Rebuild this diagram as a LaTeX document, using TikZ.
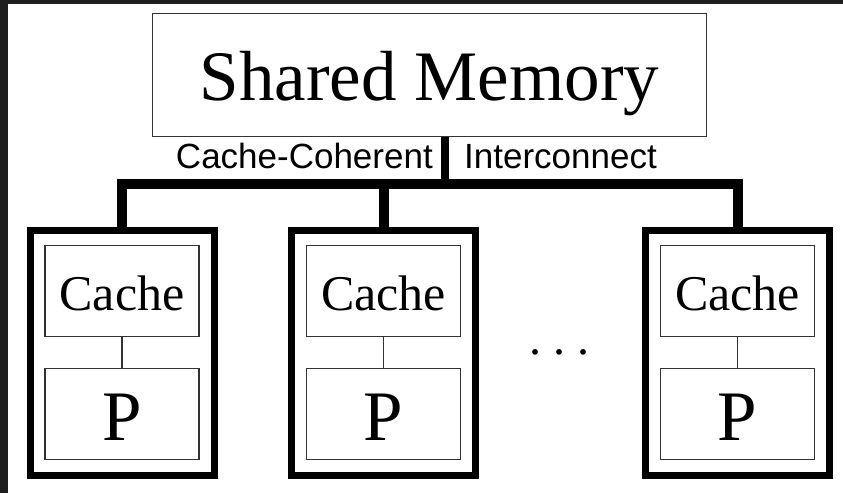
\documentclass[tikz,border=0pt]{standalone}
\usepackage{fontspec}
\setmainfont{Liberation Serif}
\setsansfont{Liberation Sans}
\definecolor{rahmen}{RGB}{30,30,30}
\definecolor{linie}{RGB}{50,50,50}

\begin{document}
\begin{tikzpicture}[x=1pt, y=-1pt,
	box/.style={draw=linie, line width=1.2pt, inner sep=0pt},
	knoten/.style={draw=black, line width=7pt, minimum width=184pt, minimum height=244.5pt, inner sep=0pt},
	bus/.style={line width=10pt, line join=miter},
	lbl/.style={font=\sffamily\fontsize{35}{40}\selectfont, inner sep=0pt}]
		%Hintergrund
		\fill[rahmen] (0,0) rectangle (843,493);
		\fill[white] (8,4) rectangle (843,493);
		
		%Speicher
		\node[box, minimum width=554pt, minimum height=123pt, text height=51pt, text depth=0pt,
			font=\fontsize{71}{80}\selectfont] (mem) at (429.5,75) {Shared Memory};
		\node[lbl, anchor=base east] (lblcc) at (433,168) {Cache-Coherent};
		\node[lbl, anchor=base west] (lblic) at (464,168) {Interconnect};
		
		%Prozessoren
		\foreach \i/\x in {1/122, 2/383.5, 3/737.5} {
			\node[knoten] (pe\i) at (\x,352.75) {};
			\node[box, minimum width=154pt, minimum height=91pt, text height=38pt, text depth=0pt,
				font=\fontsize{50}{56}\selectfont] (cache\i) at (\x,291) {Cache};
			\node[box, minimum width=154pt, minimum height=91pt, text height=52pt, text depth=0pt,
				font=\fontsize{71}{80}\selectfont] (proc\i) at (\x,414) {P};
			\draw[linie, line width=1.2pt] (cache\i) -- (proc\i);
		}
		\node[anchor=base, font=\fontsize{48}{54}\selectfont] (dots) at (559,354.5) {.\ .\ .};
		
		%Verbindungsnetz
		\coordinate (bus) at (445,183.5);
		\draw[bus] (pe1.north) -- (pe1.north |- bus) -- (pe3.north |- bus) -- (pe3.north);
		\draw[bus] (pe2.north) -- (pe2.north |- bus);
		\draw[bus, line width=8pt] (mem.south -| bus) -- (bus);
	\end{tikzpicture}
\end{document}
